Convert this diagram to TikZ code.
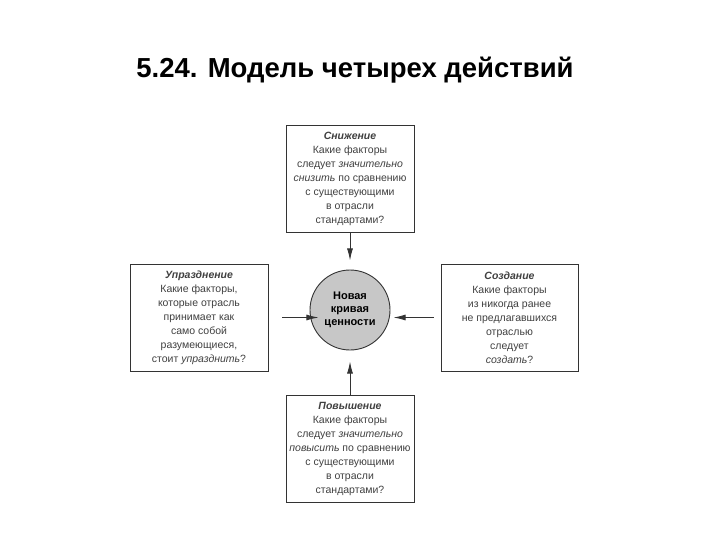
\documentclass[tikz,border=0pt]{standalone}
\usepackage{fontspec}
\setmainfont{Liberation Sans}
\usetikzlibrary{arrows.meta}
\begin{document}
\begin{tikzpicture}[x=1pt,y=-1pt,
  qbox/.style={draw=black!80,line width=0.9pt,align=center,inner sep=0pt,font=\fontsize{10.5}{14}\selectfont,text=black!75},
  arr/.style={-{Latex[length=12pt,width=6pt]},line width=0.9pt,black!80}]
\useasboundingbox (0,0) rectangle (720,540);
\node[font=\bfseries\fontsize{27.5}{30}\selectfont] (title) at (355,70) {5.24. Модель четырех действий};
\node[qbox,minimum width=128pt,minimum height=107pt] (top) at (350,178.5) {\textbf{\textit{Снижение}}\\Какие факторы\\следует \textit{значительно}\\\textit{снизить} по сравнению\\с существующими\\в отрасли\\стандартами?};
\node[qbox,minimum width=138pt,minimum height=107pt] (left) at (199,317.5) {\textbf{\textit{Упразднение}}\\Какие факторы,\\которые отрасль\\принимает как\\само собой\\разумеющиеся,\\стоит \textit{упразднить}?};
\node[qbox,minimum width=137pt,minimum height=107pt] (right) at (509.5,317.5) {\textbf{\textit{Создание}}\\Какие факторы\\из никогда ранее\\не предлагавшихся\\отраслью\\следует\\\textit{создать}?};
\node[qbox,minimum width=128pt,minimum height=107pt] (bot) at (350,448.5) {\textbf{\textit{Повышение}}\\Какие факторы\\следует \textit{значительно}\\\textit{повысить} по сравнению\\с существующими\\в отрасли\\стандартами?};
\node[circle,draw=black!80,line width=0.9pt,fill=black!22,minimum size=80pt,inner sep=0pt,align=center,font=\bfseries\fontsize{11}{13}\selectfont] (c) at (350,310) {Новая\\кривая\\ценности};
\draw[arr] (top.south) -- ++(0,28);
\draw[arr] (bot.north) -- ++(0,-33);
\draw[arr] ([xshift=14pt]left.east) -- ++(36,0);
\draw[arr] ([xshift=-7pt]right.west) -- ++(-40,0);
\end{tikzpicture}
\end{document}
